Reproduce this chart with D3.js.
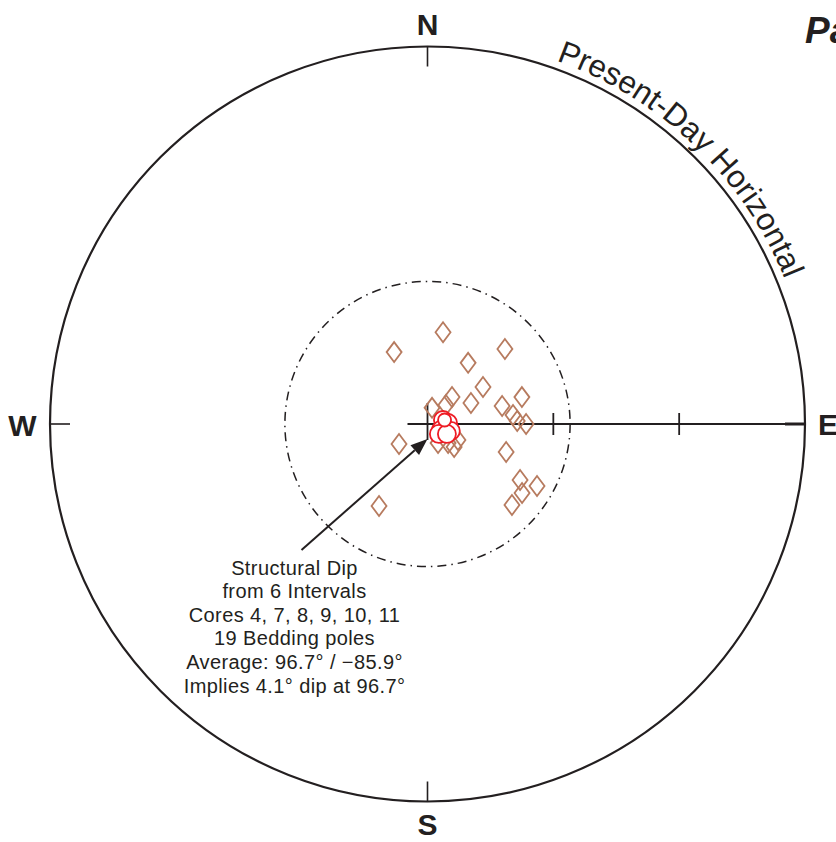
<!DOCTYPE html>
<html>
<head>
<meta charset="utf-8">
<script src="https://cdn.jsdelivr.net/npm/d3@7"></script>
<style>
  html, body { margin: 0; padding: 0; background: #fff; }
  svg { display: block; }
  text { font-family: "Liberation Sans", Arial, Helvetica, sans-serif; }
</style>
</head>
<body>
<svg id="net" width="836" height="842"></svg>
<script>
// Bedding poles (trend, plunge in degrees)
const poleTrend  = [9.6, 335.1, 45.9, 33.6, 56.3, 42.2, 64.2, 76.4, 74.1, 84.0, 88.1, 90.0, 15.7, 44.2,
                    234.9, 151.1, 132.8, 130.9, 117.7, 109.6, 121.2, 119.5, 126.1, 133.8, 210.6];
const polePlunge = [67.8, 71.1, 64.3, 72.5, 74.1, 81.3, 78.5, 71.7, 66.6, 69.5, 68.6, 66.5, 86.0, 83.7,
                    81.7, 84.8, 83.3, 81.6, 81.8, 70.1, 64.2, 60.0, 62.1, 62.1, 67.3];

// Interval mean poles (trend, plunge) and the overall average
const intervalTrend  = [75.5, 87.2, 114.0, 106.6, 131.0, 117.1];
const intervalPlunge = [86.2, 85.1, 86.5, 84.2, 86.4, 84.8];
const averageTrend = 96.7, averagePlunge = 85.9;

// Angular-distance ticks along the east axis and the reference cone
const axisTicks = [30, 60];
const coneAngle = 34;

const compass = [
  { label: "N", az: 0 }, { label: "E", az: 90 }, { label: "S", az: 180 }, { label: "W", az: 270 }
];

const noteLines = [
  "Structural Dip",
  "from 6 Intervals",
  "Cores 4, 7, 8, 9, 10, 11",
  "19 Bedding poles",
  "Average: 96.7\u00b0 / \u221285.9\u00b0",
  "Implies 4.1\u00b0 dip at 96.7\u00b0"
];

const ink = "#231f20";
const cx = 427.5, cy = 424, R = 377.5;

const svg = d3.select("#net");
const g = svg.append("g").attr("transform", `translate(${cx},${cy})`);

// radial scale: angular distance from vertical -> pixels
const rScale = d3.scaleLinear().domain([0, 90]).range([0, R]);
const rad = d => d * Math.PI / 180;
function project(trend, plunge) {
  const r = rScale(90 - plunge);
  return [r * Math.sin(rad(trend)), -r * Math.cos(rad(trend))];
}

// primitive circle
g.append("circle").attr("r", R).attr("fill", "none").attr("stroke", ink).attr("stroke-width", 2.2);

// cone circle (dash-dot)
g.append("circle").attr("r", rScale(coneAngle)).attr("fill", "none")
  .attr("stroke", ink).attr("stroke-width", 1.5)
  .attr("stroke-dasharray", "9,5,1.5,5");

// compass ticks and labels
compass.forEach(c => {
  const s = Math.sin(rad(c.az)), k = -Math.cos(rad(c.az));
  g.append("line")
    .attr("x1", s * R).attr("y1", k * R)
    .attr("x2", s * (R - 20)).attr("y2", k * (R - 20))
    .attr("stroke", ink).attr("stroke-width", c.az === 90 ? 3 : 1.6);
});
const labelPos = {
  N: [0, -389], S: [0, 411], W: [-405, 12], E: [390.5, 11]
};
compass.forEach(c => {
  const p = labelPos[c.label];
  g.append("text").attr("x", p[0]).attr("y", p[1])
    .attr("text-anchor", c.label === "E" ? "start" : "middle")
    .attr("font-size", 30).attr("font-weight", "bold").attr("fill", ink)
    .text(c.label);
});

// east axis with angular ticks
g.append("line").attr("x1", -20).attr("y1", 0).attr("x2", R).attr("y2", 0)
  .attr("stroke", ink).attr("stroke-width", 1.8);
g.append("line").attr("x1", 0).attr("y1", -21).attr("x2", 0).attr("y2", 16)
  .attr("stroke", ink).attr("stroke-width", 1.8);
axisTicks.forEach(t => {
  g.append("line").attr("x1", rScale(t)).attr("x2", rScale(t))
    .attr("y1", -11).attr("y2", 11).attr("stroke", ink).attr("stroke-width", 1.8);
});

// curved label along the primitive
const rt = R + 8;
const a0 = rad(19.5), a1 = rad(88);
const arcPath = `M ${rt * Math.sin(a0)} ${-rt * Math.cos(a0)} A ${rt} ${rt} 0 0 1 ${rt * Math.sin(a1)} ${-rt * Math.cos(a1)}`;
g.append("path").attr("id", "horizArc").attr("d", arcPath).attr("fill", "none");
g.append("text").attr("font-size", 31.5).attr("fill", ink)
  .append("textPath").attr("href", "#horizArc").text("Present-Day Horizontal");

// bedding poles (diamonds)
const poles = poleTrend.map((t, i) => project(t, polePlunge[i]));
g.selectAll("path.pole").data(poles).join("path")
  .attr("class", "pole")
  .attr("d", d => `M ${d[0]} ${d[1] - 10} L ${d[0] + 7.5} ${d[1]} L ${d[0]} ${d[1] + 10} L ${d[0] - 7.5} ${d[1]} Z`)
  .attr("fill", "none").attr("stroke", "#b77b5f").attr("stroke-width", 1.8);

// interval mean poles (circles)
const means = intervalTrend.map((t, i) => project(t, intervalPlunge[i]));
g.selectAll("circle.mean").data(means).join("circle")
  .attr("class", "mean")
  .attr("cx", d => d[0]).attr("cy", d => d[1]).attr("r", 9)
  .attr("fill", "#fff").attr("stroke", "#ee1c25").attr("stroke-width", 1.8);
const avg = project(averageTrend, averagePlunge);
g.append("circle").attr("cx", avg[0]).attr("cy", avg[1] - 6).attr("r", 6.5)
  .attr("fill", "#fff").attr("stroke", "#ee1c25").attr("stroke-width", 1.8);

// annotation arrow
const tail = [-126, 126], tip = [0, 15];
const dx = tip[0] - tail[0], dy = tip[1] - tail[1];
const len = Math.hypot(dx, dy), ux = dx / len, uy = dy / len;
const hl = 17, hw = 6.5;
const base = [tip[0] - ux * hl, tip[1] - uy * hl];
g.append("line").attr("x1", tail[0]).attr("y1", tail[1]).attr("x2", base[0]).attr("y2", base[1])
  .attr("stroke", ink).attr("stroke-width", 2);
g.append("path")
  .attr("d", `M ${tip[0]} ${tip[1]} L ${base[0] - uy * hw} ${base[1] + ux * hw} L ${base[0] + uy * hw} ${base[1] - ux * hw} Z`)
  .attr("fill", ink);

// annotation text
const note = g.append("text").attr("text-anchor", "middle").attr("font-size", 20)
  .attr("letter-spacing", 0.4).attr("fill", ink);
noteLines.forEach((line, i) => {
  note.append("tspan").attr("x", -133).attr("y", 150.5 + i * 23.6).text(line);
});

// title fragment at the right edge
svg.append("text").attr("x", 805).attr("y", 43)
  .attr("font-size", 37).attr("font-weight", "bold").attr("font-style", "italic").attr("fill", ink)
  .text("Pa");
</script>
</body>
</html>
